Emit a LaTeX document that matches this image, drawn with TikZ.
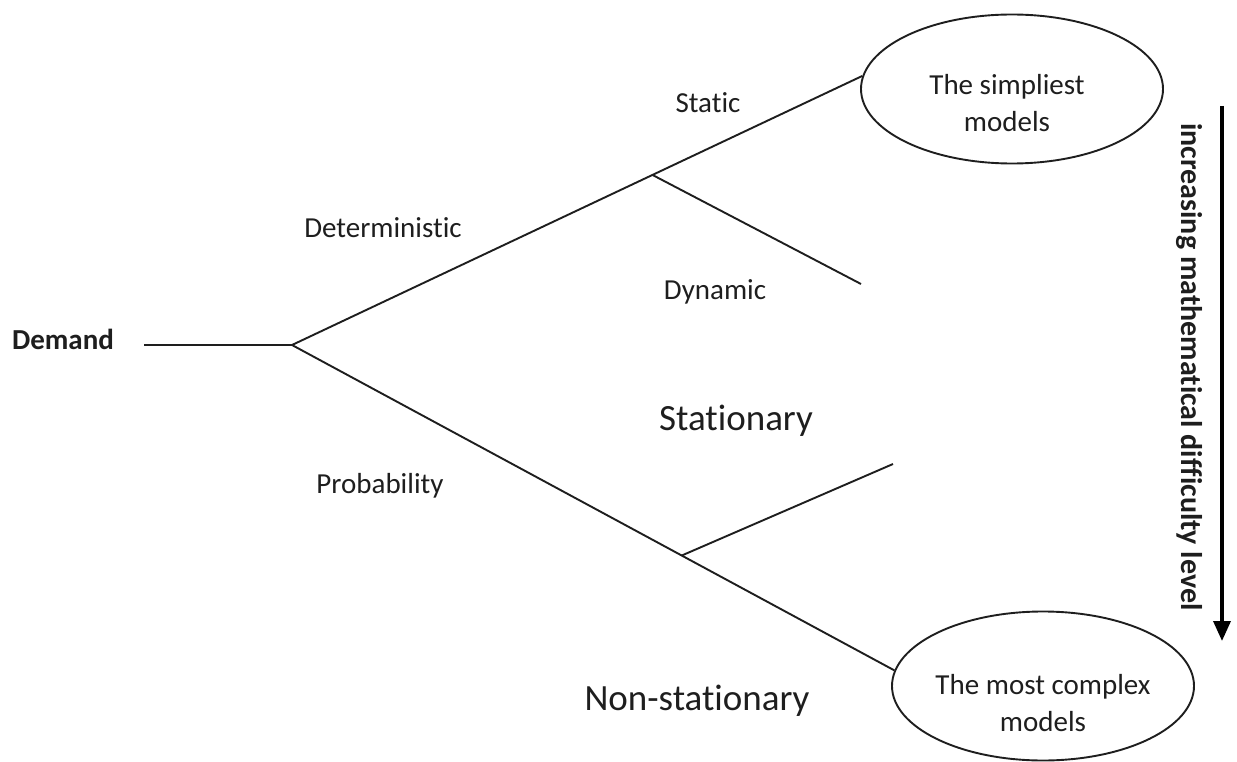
\documentclass[tikz,border=0pt]{standalone}
\usepackage{fontspec}
\setmainfont[Ligatures=NoCommon]{Carlito}
\usetikzlibrary{shapes.geometric,arrows.meta}
\definecolor{ink}{HTML}{1E1E1E}
\begin{document}
\begin{tikzpicture}[x=1pt,y=-1pt,
  branch/.style={draw=ink,line width=1.9pt},
  small/.style={font=\fontsize{29}{35}\selectfont,text=ink,inner sep=0pt,anchor=base},
  big/.style={font=\fontsize{37}{44}\selectfont,text=ink,inner sep=0pt,anchor=base},
  oval/.style={ellipse,draw=ink,line width=1.9pt,minimum width=302pt,minimum height=149pt,inner sep=0pt},
  ovaltext/.style={font=\fontsize{29}{37}\selectfont,text=ink,align=center,inner sep=0pt}]
\useasboundingbox (0,0) rectangle (1237,762);
% nodes
\node[small,font=\fontsize{29}{35}\selectfont\bfseries] (demand) at (63,349) {Demand};
\node[oval] (simple) at (1012,89) {};
\node[ovaltext] (simpletxt) at (1007,103) {The simpliest\\models};
\node[oval] (complex) at (1043,686) {};
\node[ovaltext] (complextxt) at (1043,703) {The most complex\\models};
\coordinate (d0) at (144,345);
\coordinate (root) at (292,345);
\coordinate (dynend) at (861,284);
\coordinate (statend) at (893,464);
% labels
\node[small] (static) at (708,113) {Static};
\node[small] (determ) at (383,237) {Deterministic};
\node[small] (dynamic) at (715,299) {Dynamic};
\node[small] (prob) at (380,493) {Probability};
\node[big] (stat) at (736,430) {Stationary};
\node[big] (nonstat) at (697,710) {Non-stationary};
% connectors
\draw[branch] (d0) -- (root);
\draw[branch] (root) -- coordinate[pos=0.632] (b1) (simple.175);
\draw[branch] (root) -- coordinate[pos=0.647] (b2) (complex.174);
\draw[branch] (b1) -- (dynend);
\draw[branch] (b2) -- (statend);
% difficulty arrow
\coordinate (atop) at (1222,106);
\coordinate (abot) at (1222,641);
\draw[line width=3.5pt,draw=black,-{Triangle[width=17pt,length=20pt]}] (atop) -- (abot);
\node[rotate=-90,anchor=base,inner sep=0pt,text=ink,font=\fontsize{30}{36}\selectfont\bfseries] (diff) at (1181,367) {increasing mathematical difficulty level};
\end{tikzpicture}
\end{document}
